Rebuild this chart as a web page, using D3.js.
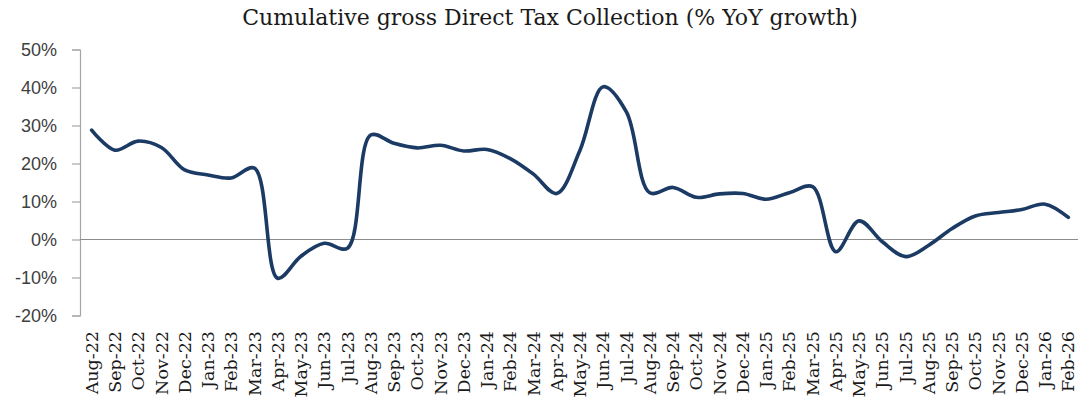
<!DOCTYPE html>
<html>
<head>
<meta charset="utf-8">
<script src="https://cdn.jsdelivr.net/npm/d3@7"></script>
<style>
  body { margin: 0; background: #fff; }
  svg { display: block; }
</style>
</head>
<body>
<script>
// months shown on the x axis
var months = ["Aug-22","Sep-22","Oct-22","Nov-22","Dec-22",
  "Jan-23","Feb-23","Mar-23","Apr-23","May-23","Jun-23","Jul-23","Aug-23","Sep-23","Oct-23","Nov-23","Dec-23",
  "Jan-24","Feb-24","Mar-24","Apr-24","May-24","Jun-24","Jul-24","Aug-24","Sep-24","Oct-24","Nov-24","Dec-24",
  "Jan-25","Feb-25","Mar-25","Apr-25","May-25","Jun-25","Jul-25","Aug-25","Sep-25","Oct-25","Nov-25","Dec-25",
  "Jan-26","Feb-26"];

// cumulative gross direct tax, % YoY
var growth = [28.8, 23.5, 25.9, 24.2, 18.3,
  17.0, 16.2, 18.8, -10.2, -4.4, -1.0, -2.3, 27.5, 25.3, 24.1, 24.8, 23.3,
  23.7, 21.3, 17.2, 12.1, 23.5, 40.2, 33.5, 12.3, 13.7, 11.1, 12.0, 12.1,
  10.6, 12.3, 13.9, -3.2, 4.9, -0.6, -4.5, -1.5, 2.9, 6.2, 7.1, 7.9,
  9.3, 5.8];

var yTicks = [50, 40, 30, 20, 10, 0, -10, -20];

var width = 1078, height = 405;
var plotLeft = 80, plotRight = 1080, plotTop = 49.5, plotBottom = 315.5;

var svg = d3.select("body").append("svg")
    .attr("width", width)
    .attr("height", height);

var x = d3.scalePoint().domain(months).range([plotLeft, plotRight]).padding(0.5);
var y = d3.scaleLinear().domain([-20, 50]).range([plotBottom, plotTop]);

// title
svg.append("text")
  .attr("x", 550)
  .attr("y", 25)
  .attr("text-anchor", "middle")
  .style("font-family", "'DejaVu Serif', serif")
  .style("font-size", "22px")
  .style("fill", "#1a1a1a")
  .text("Cumulative gross Direct Tax Collection (% YoY growth)");

// y axis
var yAxis = svg.append("g")
  .attr("transform", "translate(" + plotLeft + ",0)")
  .call(d3.axisLeft(y).tickValues(yTicks).tickSize(8).tickPadding(15)
    .tickFormat(function(d) { return d + "%"; }));
yAxis.select(".domain").attr("stroke", "#a6a6a6").attr("stroke-width", 1.2);
yAxis.selectAll(".tick line").attr("stroke", "#a6a6a6").attr("stroke-width", 1.2);
yAxis.selectAll(".tick text")
  .style("font-family", "'Liberation Sans', Arial, sans-serif")
  .style("font-size", "18px")
  .style("fill", "#404040");

// zero line
svg.append("line")
  .attr("x1", plotLeft).attr("x2", plotRight)
  .attr("y1", y(0)).attr("y2", y(0))
  .attr("stroke", "#8c8c8c")
  .attr("stroke-width", 1.2);

// x labels, rotated
svg.append("g").selectAll("text")
  .data(months)
  .enter()
  .append("text")
  .attr("transform", function(d) { return "translate(" + x(d) + ",331) rotate(-90)"; })
  .attr("dy", "0.35em")
  .attr("text-anchor", "end")
  .style("font-family", "'DejaVu Serif', serif")
  .style("font-size", "17.5px")
  .style("fill", "#1a1a1a")
  .text(function(d) { return d; });

// the series
var line = d3.line()
  .x(function(d, i) { return x(months[i]); })
  .y(function(d) { return y(d); })
  .curve(d3.curveCatmullRom.alpha(0.5));

svg.append("path")
  .datum(growth)
  .attr("d", line)
  .attr("fill", "none")
  .attr("stroke", "#1b3a64")
  .attr("stroke-width", 3.6)
  .attr("stroke-linejoin", "round")
  .attr("stroke-linecap", "round");
</script>
</body>
</html>
